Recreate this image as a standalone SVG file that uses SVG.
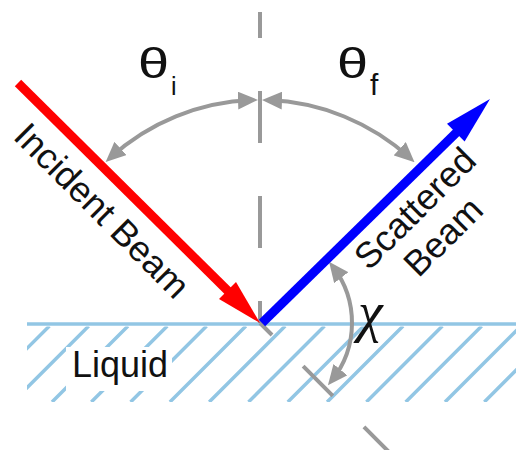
<svg xmlns="http://www.w3.org/2000/svg" width="516" height="450" viewBox="0 0 516 450">
<defs>
<style>
.lbl{font-family:"Liberation Sans",Arial,sans-serif;fill:#111}
.hatch{stroke:#92c6e4;stroke-width:3.5;fill:none}
.gray{stroke:#999;stroke-width:4;fill:none}
</style>
<marker id="ah" viewBox="0 0 20 18" refX="14" refY="9" markerWidth="20" markerHeight="18" markerUnits="userSpaceOnUse" orient="auto-start-reverse"><path d="M0,0 L20,9 L0,18 z" fill="#999"/></marker>
<clipPath id="liqClip"><rect x="27" y="326.5" width="489" height="75.5"/></clipPath>
<mask id="txtMask"><rect x="0" y="0" width="516" height="450" fill="#fff"/><rect x="66" y="347" width="106" height="44" fill="#000"/></mask>
</defs>
<rect width="516" height="450" fill="#fff"/>
<g id="liquid">
<g clip-path="url(#liqClip)" mask="url(#txtMask)">
<path class="hatch" d="M-26.6,402l76,-76M12.7,402l76,-76M52,402l76,-76M91.3,402l76,-76M130.6,402l76,-76M169.9,402l76,-76M209.2,402l76,-76M248.5,402l76,-76M287.8,402l76,-76M327.1,402l76,-76M366.4,402l76,-76M405.7,402l76,-76M445,402l76,-76M484.3,402l76,-76"/>
</g>
<line class="hatch" x1="27" y1="324" x2="516" y2="324" stroke-width="4"/>
<text class="lbl" x="72" y="377" font-size="36">Liquid</text>
</g>
<g id="connectors">
<line class="gray" x1="260" y1="12" x2="260" y2="323" stroke-dasharray="52 53" stroke-dashoffset="26"/>
<line class="gray" x1="260" y1="323" x2="392" y2="455" stroke-dasharray="42 44" stroke-dashoffset="25"/>
<path class="gray" d="M110.1,157.9 A223,223 0 0,1 252,100.1" marker-start="url(#ah)" marker-end="url(#ah)"/>
<path class="gray" d="M268,100.1 A223,223 0 0,1 410.1,158.1" marker-start="url(#ah)" marker-end="url(#ah)"/>
<path class="gray" d="M332.7,266.6 A92,92 0 0,1 331.7,380.6" marker-start="url(#ah)" marker-end="url(#ah)"/>
</g>
<g id="incident-beam">
<line x1="18" y1="83" x2="229" y2="292" stroke="#ff0000" stroke-width="9"/>
<polygon points="260,323 236,282 219,299" fill="#ff0000"/>
<text class="lbl" transform="rotate(45)" x="106" y="89" font-size="36">Incident Beam</text>
</g>
<g id="scattered-beam">
<line x1="262" y1="323" x2="458" y2="131" stroke="#0000ff" stroke-width="9"/>
<polygon points="490,99 464.6,141.5 447,123.7" fill="#0000ff"/>
<g transform="rotate(-45)">
<text class="lbl" x="146" y="453" font-size="36" text-anchor="middle">Scattered</text>
<text class="lbl" x="146" y="493" font-size="36" text-anchor="middle">Beam</text>
</g>
</g>
<g id="theta-i">
<text class="lbl" transform="translate(138,78) scale(1.3,1)" font-size="43">θ</text>
<text class="lbl" x="171" y="95" font-size="25">i</text>
</g>
<g id="theta-f">
<text class="lbl" transform="translate(337,78) scale(1.3,1)" font-size="43">θ</text>
<text class="lbl" x="370" y="95" font-size="30">f</text>
</g>
<g id="chi">
<text x="358" y="331" font-family="'Liberation Serif',serif" font-style="italic" font-size="56" fill="#111">χ</text>
</g>
</svg>
